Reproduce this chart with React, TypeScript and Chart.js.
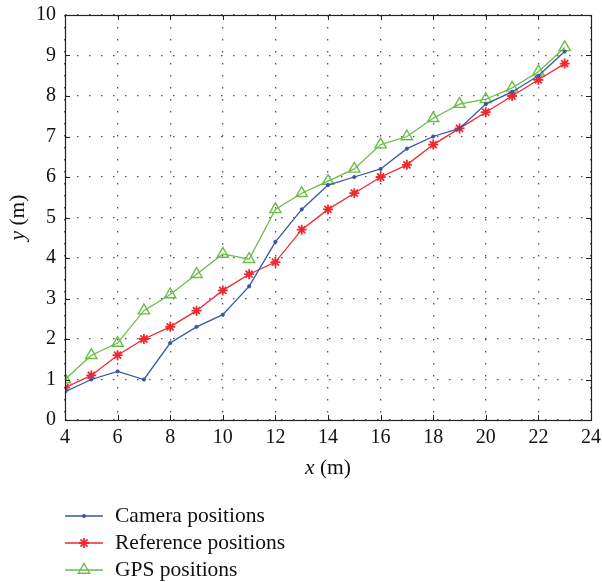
import React, { useEffect, useRef } from "react";
import { Chart, registerables } from "chart.js";
import { drawPoint } from "chart.js/helpers";

Chart.register(...registerables);

// Distance along the track (m)
const xValues = [4, 5, 6, 7, 8, 9, 10, 11, 12, 13, 14, 15, 16, 17, 18, 19, 20, 21, 22, 23];

// Lateral positions (m)
const cameraY = [0.7, 1.0, 1.2, 1.0, 1.9, 2.3, 2.6, 3.3, 4.4, 5.2, 5.8, 6.0, 6.2, 6.7, 7.0, 7.2, 7.8, 8.1, 8.5, 9.1];
const referenceY = [0.8, 1.1, 1.6, 2.0, 2.3, 2.7, 3.2, 3.6, 3.9, 4.7, 5.2, 5.6, 6.0, 6.3, 6.8, 7.2, 7.6, 8.0, 8.4, 8.8];
const gpsY = [1.0, 1.6, 1.9, 2.7, 3.1, 3.6, 4.1, 3.97, 5.2, 5.6, 5.9, 6.2, 6.8, 7.0, 7.45, 7.8, 7.92, 8.2, 8.6, 9.2];

const seriesLabels = ["Camera positions", "Reference positions", "GPS positions"];

const xTicks = [4, 6, 8, 10, 12, 14, 16, 18, 20, 22, 24];
const yTicks = [0, 1, 2, 3, 4, 5, 6, 7, 8, 9, 10];

const FONT = "'Liberation Serif', 'Times New Roman', serif";
const TICK_SIZE = 20;
const TEXT_SIZE = 21.5;

const toPoints = (ys: number[]) => xValues.map((x, i) => ({ x, y: ys[i] }));

// Box frame with inward tick marks on all four sides, plus tick labels
const framePlugin = {
  id: "frame",
  afterDraw(chart: any) {
    const { ctx, chartArea: a, scales } = chart;
    ctx.save();
    ctx.strokeStyle = "#222";
    ctx.lineWidth = 1;
    const tick = 5;
    ctx.beginPath();
    xTicks.forEach((v) => {
      const px = Math.round(scales.x.getPixelForValue(v)) + 0.5;
      ctx.moveTo(px, a.bottom);
      ctx.lineTo(px, a.bottom - tick);
      ctx.moveTo(px, a.top);
      ctx.lineTo(px, a.top + tick);
    });
    yTicks.forEach((v) => {
      const py = Math.round(scales.y.getPixelForValue(v)) + 0.5;
      ctx.moveTo(a.left, py);
      ctx.lineTo(a.left + tick, py);
      ctx.moveTo(a.right, py);
      ctx.lineTo(a.right - tick, py);
    });
    ctx.stroke();
    ctx.lineWidth = 1.2;
    ctx.strokeRect(Math.round(a.left) + 0.5, Math.round(a.top) + 0.5, Math.round(a.right - a.left), Math.round(a.bottom - a.top));

    ctx.fillStyle = "#111";
    ctx.font = `${TICK_SIZE}px ${FONT}`;
    ctx.textBaseline = "middle";
    ctx.textAlign = "center";
    xTicks.forEach((v) => {
      ctx.fillText(String(v), scales.x.getPixelForValue(v), a.bottom + 18);
    });
    ctx.textAlign = "right";
    yTicks.forEach((v) => {
      ctx.fillText(String(v), a.left - 9, scales.y.getPixelForValue(v));
    });
    ctx.restore();
  },
};

// Axis titles with an italic variable name
const titlePlugin = {
  id: "axisTitles",
  afterDraw(chart: any) {
    const { ctx, chartArea: a } = chart;
    const drawTitle = (v: string, rest: string) => {
      ctx.font = `italic ${TEXT_SIZE}px ${FONT}`;
      const w1 = ctx.measureText(v).width;
      ctx.font = `${TEXT_SIZE}px ${FONT}`;
      const w2 = ctx.measureText(rest).width;
      const start = -(w1 + w2) / 2;
      ctx.font = `italic ${TEXT_SIZE}px ${FONT}`;
      ctx.fillText(v, start, 0);
      ctx.font = `${TEXT_SIZE}px ${FONT}`;
      ctx.fillText(rest, start + w1, 0);
    };
    ctx.save();
    ctx.fillStyle = "#111";
    ctx.textBaseline = "middle";
    ctx.textAlign = "left";
    ctx.save();
    ctx.translate((a.left + a.right) / 2, 468);
    drawTitle("x", " (m)");
    ctx.restore();
    ctx.save();
    ctx.translate(18, (a.top + a.bottom) / 2);
    ctx.rotate(-Math.PI / 2);
    drawTitle("y", " (m)");
    ctx.restore();
    ctx.restore();
  },
};

// Stacked legend below the plot
const legendPlugin = {
  id: "stackedLegend",
  afterDraw(chart: any) {
    const { ctx } = chart;
    const rows = [516, 543, 570];
    ctx.save();
    chart.data.datasets.forEach((ds: any, i: number) => {
      const y = rows[i];
      ctx.strokeStyle = ds.borderColor;
      ctx.lineWidth = ds.borderWidth;
      ctx.beginPath();
      ctx.moveTo(65, y);
      ctx.lineTo(103, y);
      ctx.stroke();
      ctx.fillStyle = ds.pointBackgroundColor;
      ctx.strokeStyle = ds.borderColor;
      ctx.lineWidth = ds.pointBorderWidth;
      drawPoint(ctx, { pointStyle: ds.pointStyle, radius: ds.pointRadius, borderWidth: ds.pointBorderWidth, rotation: 0 }, 84, y);
      ctx.fillStyle = "#111";
      ctx.font = `${TEXT_SIZE}px ${FONT}`;
      ctx.textBaseline = "middle";
      ctx.textAlign = "left";
      ctx.fillText(ds.label, 115, y);
    });
    ctx.restore();
  },
};

export default function App() {
  const canvasRef = useRef<HTMLCanvasElement | null>(null);

  useEffect(() => {
    document.body.style.margin = "0";
    const canvas = canvasRef.current;
    if (!canvas) return;
    const chart = new Chart(canvas, {
      type: "line",
      data: {
        datasets: [
          {
            label: seriesLabels[0],
            data: toPoints(cameraY),
            borderColor: "#3a55a6",
            backgroundColor: "#3a55a6",
            pointBackgroundColor: "#3a55a6",
            borderWidth: 1.3,
            pointStyle: "circle",
            pointRadius: 1.6,
            pointBorderWidth: 1,
          },
          {
            label: seriesLabels[1],
            data: toPoints(referenceY),
            borderColor: "#ee2a2e",
            backgroundColor: "#ee2a2e",
            pointBackgroundColor: "#ee2a2e",
            borderWidth: 1.3,
            pointStyle: "star",
            pointRadius: 5,
            pointBorderWidth: 1.8,
          },
          {
            label: seriesLabels[2],
            data: toPoints(gpsY),
            borderColor: "#6bbd48",
            backgroundColor: "rgba(0,0,0,0)",
            pointBackgroundColor: "rgba(0,0,0,0)",
            borderWidth: 1.3,
            pointStyle: "triangle",
            pointRadius: 6.5,
            pointBorderWidth: 1.4,
          },
        ],
      },
      options: {
        animation: false,
        responsive: false,
        devicePixelRatio: 1,
        layout: { padding: { left: 65, right: 11, top: 15, bottom: 162 } },
        plugins: { legend: { display: false }, tooltip: { enabled: false } },
        scales: {
          x: {
            type: "linear",
            min: 4,
            max: 24,
            afterBuildTicks: (s: any) => {
              s.ticks = xTicks.map((v) => ({ value: v }));
            },
            ticks: { display: false },
            grid: { color: "#555", lineWidth: 1.3, drawTicks: false, tickLength: 0 },
            border: { display: false, dash: [1.5, 10.5] },
          },
          y: {
            type: "linear",
            min: 0,
            max: 10,
            afterBuildTicks: (s: any) => {
              s.ticks = yTicks.map((v) => ({ value: v }));
            },
            ticks: { display: false },
            grid: { color: "#555", lineWidth: 1.3, drawTicks: false, tickLength: 0 },
            border: { display: false, dash: [1.5, 10.5] },
          },
        },
      },
      plugins: [framePlugin, titlePlugin, legendPlugin],
    } as any);
    return () => chart.destroy();
  }, []);

  return <canvas ref={canvasRef} width={602} height={582} style={{ display: "block" }} />;
}
